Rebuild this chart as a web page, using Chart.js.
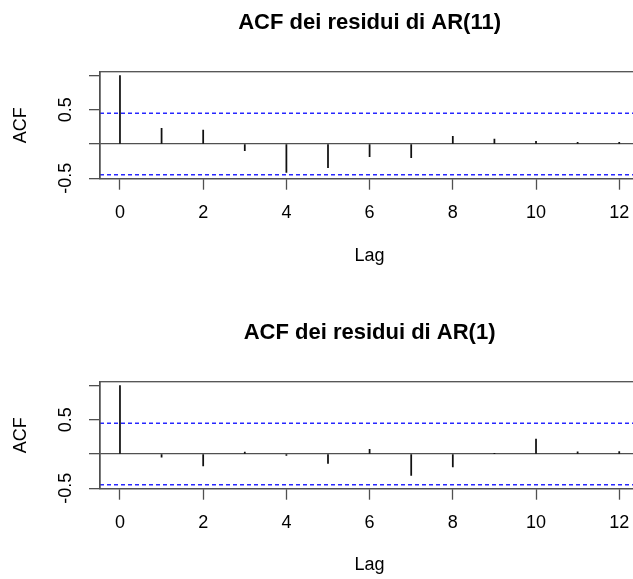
<!DOCTYPE html>
<html>
<head>
<meta charset="utf-8">
<script src="https://cdn.jsdelivr.net/npm/chart.js@4.4.1/dist/chart.umd.min.js"></script>
<style>
  html, body { margin: 0; padding: 0; background: #fff; overflow: hidden; width: 633px; height: 579px; }
  .panel { position: absolute; left: 0; width: 738px; height: 290px; }
  #p1 { top: 0; }
  #p2 { top: 310px; }
</style>
</head>
<body>
<div class="panel" id="p1"><canvas id="c1" width="738" height="290"></canvas></div>
<div class="panel" id="p2"><canvas id="c2" width="738" height="290"></canvas></div>
<script>
// ---- data ----
const lags = [0, 1, 2, 3, 4, 5, 6, 7, 8, 9, 10, 11, 12];
const acfAR11 = [1, 0.229, 0.205, -0.098, -0.415, -0.347, -0.185, -0.2, 0.112, 0.073, 0.039, 0.024, 0.024];
const acfAR1 = [1, -0.045, -0.176, 0.027, -0.02, -0.137, 0.068, -0.312, -0.188, 0.005, 0.22, 0.03, 0.034];
const ciBound = 0.45;
const xTickValues = [0, 2, 4, 6, 8, 10, 12];
const yTickValues = [-0.5, 0, 0.5, 1];
const yTickLabels = ['-0.5', '', '0.5', ''];
const titles = ['ACF dei residui di AR(11)', 'ACF dei residui di AR(1)'];
const xLabel = 'Lag';
const yLabel = 'ACF';
const xRange = [-0.48, 12.48];
const yRange = [-0.508, 1.058];

Chart.defaults.font.family = "'Liberation Sans', Arial, Helvetica, sans-serif";
Chart.defaults.color = '#000';

const AXIS_COLOR = '#505050';
const CI_COLOR = 'rgb(40,40,255)';

const framePlugin = {
  id: 'frame',
  afterDraw(chart) {
    const a = chart.chartArea;
    const ctx = chart.ctx;
    ctx.save();
    ctx.strokeStyle = AXIS_COLOR;
    ctx.lineWidth = 1.3;
    ctx.strokeRect(a.left, a.top, a.right - a.left, a.bottom - a.top);
    ctx.restore();
  }
};

function makeChart(id, title, values, lagPadBottom) {
  const spikes = lags.map((l, i) => ({ x: l, y: values[i] }));
  const ciUp = [{ x: xRange[0], y: ciBound }, { x: xRange[1], y: ciBound }];
  const ciLo = [{ x: xRange[0], y: -ciBound }, { x: xRange[1], y: -ciBound }];
  return new Chart(document.getElementById(id), {
    type: 'bar',
    data: {
      datasets: [
        { type: 'bar', data: spikes, backgroundColor: '#111', borderWidth: 0, barThickness: 1.1, order: 2 },
        { type: 'line', data: ciUp, borderColor: CI_COLOR, borderWidth: 1.3, borderDash: [4, 3], pointRadius: 0, fill: false, order: 1 },
        { type: 'line', data: ciLo, borderColor: CI_COLOR, borderWidth: 1.3, borderDash: [4, 3], pointRadius: 0, fill: false, order: 1 }
      ]
    },
    options: {
      responsive: false,
      animation: false,
      events: [],
      layout: { padding: { left: 0, right: 98.8, top: 0, bottom: 0 } },
      plugins: {
        legend: { display: false },
        tooltip: { enabled: false },
        title: {
          display: true,
          fullSize: false,
          text: title,
          color: '#000',
          font: { size: 22, weight: 'bold', lineHeight: 1.2 },
          padding: { top: 9.8, bottom: 35.5 }
        }
      },
      scales: {
        x: {
          type: 'linear',
          min: xRange[0],
          max: xRange[1],
          offset: false,
          afterBuildTicks: s => { s.ticks = xTickValues.map(v => ({ value: v })); },
          afterFit: s => { s.height = 290 - 178.7; },
          grid: { display: true, drawOnChartArea: false, offset: false, tickLength: 11, tickColor: AXIS_COLOR, tickWidth: 1.3 },
          border: { display: true, color: AXIS_COLOR, width: 1.3 },
          ticks: { font: { size: 18 }, padding: 12.5, maxRotation: 0, autoSkip: false, callback: v => String(v) },
          title: { display: true, text: xLabel, font: { size: 18, lineHeight: 1.2 }, padding: { top: 0, bottom: lagPadBottom } }
        },
        y: {
          type: 'linear',
          min: yRange[0],
          max: yRange[1],
          afterBuildTicks: s => { s.ticks = yTickValues.map(v => ({ value: v })); },
          afterFit: s => { s.width = 100; },
          grid: {
            display: true,
            drawOnChartArea: true,
            tickLength: 11,
            color: c => (c.tick && c.tick.value === 0) ? AXIS_COLOR : 'rgba(0,0,0,0)',
            lineWidth: 1.3,
            tickColor: AXIS_COLOR,
            tickWidth: 1.3
          },
          border: { display: true, color: AXIS_COLOR, width: 1.3 },
          ticks: {
            font: { size: 18 },
            minRotation: 90,
            maxRotation: 90,
            crossAlign: 'center',
            padding: 7.5,
            autoSkip: false,
            callback: (v) => yTickLabels[yTickValues.indexOf(v)] ?? ''
          },
          title: { display: true, text: yLabel, font: { size: 18, lineHeight: 1.2 }, padding: { top: 10.2, bottom: 0 } }
        }
      }
    },
    plugins: [framePlugin]
  });
}

makeChart('c1', titles[0], acfAR11, 22.7);
makeChart('c2', titles[1], acfAR1, 24.4);
</script>
</body>
</html>
